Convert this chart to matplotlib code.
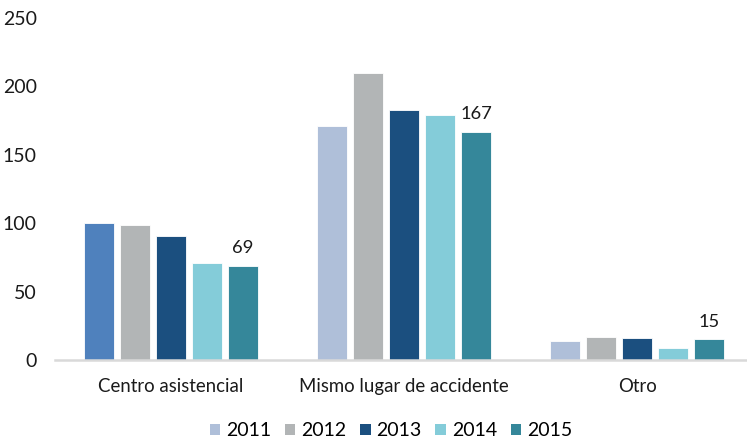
import numpy as np
import matplotlib.pyplot as plt

plt.rcParams['font.family'] = ['Lato', 'DejaVu Sans']

categories = ['Centro asistencial', 'Mismo lugar de accidente', 'Otro']
years = ['2011', '2012', '2013', '2014', '2015']
values = {
    '2011': [100, 171, 14],
    '2012': [99, 210, 17],
    '2013': [91, 183, 16],
    '2014': [71, 179, 9],
    '2015': [69, 167, 15],
}
colors = ['#AFBFD9', '#B2B5B6', '#1B4F7F', '#84CCD9', '#35879A']
# first bar of the first group is coloured differently in the original
special_color = '#4F81BD'

fig = plt.figure(figsize=(7.47, 4.42), dpi=100)
ax = fig.add_axes([55 / 747, 82 / 442, 692 / 747, 342 / 442])

x = np.arange(len(categories))
step = 0.1545
width = 0.125
for i, yr in enumerate(years):
    cols = [colors[i]] * len(categories)
    if i == 0:
        cols[0] = special_color
    bars = ax.bar(x + (i - 2) * step, values[yr], width, color=cols,
                  edgecolor='white', linewidth=0.6, label=yr)
    if yr == '2015':
        for b, v in zip(bars, values[yr]):
            ax.text(b.get_x() + b.get_width() / 2, v + 7, str(v),
                    ha='center', va='bottom', fontsize=13.2, color='#1a1a1a')

ax.set_xlim(-0.498, 2.472)
ax.set_ylim(0, 250)
ax.set_yticks([0, 50, 100, 150, 200, 250])
ax.set_xticks(x)
ax.set_xticklabels(categories, fontsize=13.4, color='#1a1a1a')
ax.tick_params(axis='y', length=0, pad=13, labelsize=14, labelcolor='#1a1a1a')
ax.tick_params(axis='x', length=0, pad=13)
for s in ['top', 'right', 'left']:
    ax.spines[s].set_visible(False)
ax.spines['bottom'].set_color('#D9D9D9')
ax.spines['bottom'].set_linewidth(1.8)

leg = fig.legend(loc='center', bbox_to_anchor=(391 / 747, 1 - 431 / 442), ncol=5,
                 frameon=False, fontsize=14, handlelength=0.55, handleheight=0.55,
                 handletextpad=0.3, columnspacing=0.7)
for h in leg.legend_handles:
    h.set_edgecolor('none')
leg.legend_handles[0].set_facecolor(colors[0])

fig.savefig('out.png', dpi=100)
